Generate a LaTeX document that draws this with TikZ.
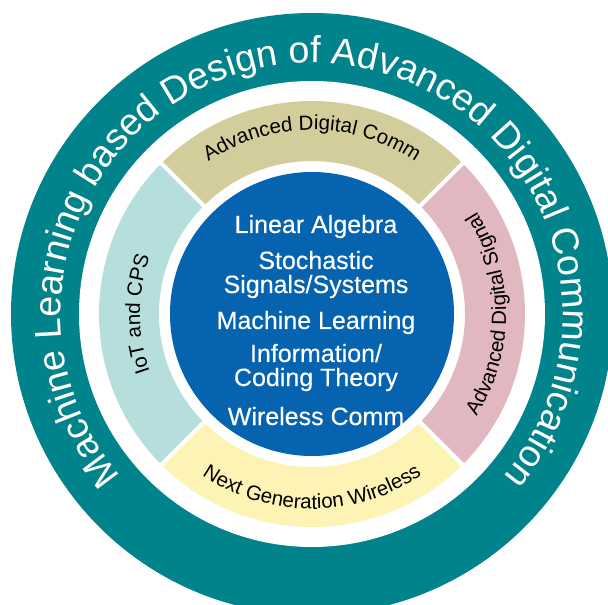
\documentclass[tikz,border=0pt]{standalone}
\usepackage{fontspec}
\setmainfont{Liberation Sans}
\newfontfamily\medsans[FakeBold=0.35]{Liberation Sans}
\usetikzlibrary{decorations.text}
\definecolor{tealc}{HTML}{00838A}
\definecolor{bluec}{HTML}{0563B0}
\definecolor{tanc}{HTML}{D3CD9C}
\definecolor{lbluec}{HTML}{B5DEDD}
\definecolor{pinkc}{HTML}{E1B8BF}
\definecolor{yellowc}{HTML}{FDF3B5}
\begin{document}
\begin{tikzpicture}[x=1pt,y=1pt,
  ctext/.style={text=white, font=\medsans\fontsize{25}{25}\selectfont, anchor=base, inner sep=0pt},
  bandtext/.style={decorate, decoration={text along path, text align=center,
      text={|\fontsize{20.5}{20.5}\selectfont|#1}}},
  sep/.style={white, line width=4pt}]
\useasboundingbox (-312,-291) rectangle (296,314);
\clip (-312,-291) rectangle (296,314);
\fill[white] (-312,-291) rectangle (296,314);
\coordinate (c) at (0,0);
% outer ring
\fill[tealc] (c) circle (301);
\fill[white] (c) circle (233);
% band sectors
\fill[tanc]    (45:153)  arc (45:135:153)  -- (135:213) arc (135:45:213)  -- cycle;
\fill[lbluec]  (135:153) arc (135:225:153) -- (225:213) arc (225:135:213) -- cycle;
\fill[yellowc] (225:153) arc (225:315:153) -- (315:213) arc (315:225:213) -- cycle;
\fill[pinkc]   (-45:153) arc (-45:45:153)  -- (45:213)  arc (45:-45:213)  -- cycle;
\foreach \a in {45,135,225,315} \draw[sep] (\a:146) -- (\a:220);
% core
\fill[bluec] (c) circle (142);
% outer title
\path[decorate, decoration={text along path, text align=center,
   text={|\color{white}\fontsize{37.5}{37.5}\selectfont|Machine Learning based Design of Advanced Digital Communication}}]
   (245:251) arc (245:-65:251);
% band labels
\path[bandtext={Advanced Digital Comm}] (150:184) arc (150:30:184);
\path[bandtext={IoT and CPS}] (235:172) arc (235:125:172);
\path[bandtext={Next Generation Wireless}] (210:195) arc (210:330:195);
\path[bandtext={Advanced Digital Signal}] (-60:194) arc (-60:60:194);
% core topics
\node[ctext] (la) at (4,81) {Linear Algebra};
\node[ctext] (st) at (4,45) {Stochastic};
\node[ctext] (ss) at (4,21) {Signals/Systems};
\node[ctext] (ml) at (4,-15) {Machine Learning};
\node[ctext] (inf) at (4,-48) {Information/};
\node[ctext] (ct) at (4,-72) {Coding Theory};
\node[ctext] (wc) at (4,-111) {Wireless Comm};
\end{tikzpicture}
\end{document}
